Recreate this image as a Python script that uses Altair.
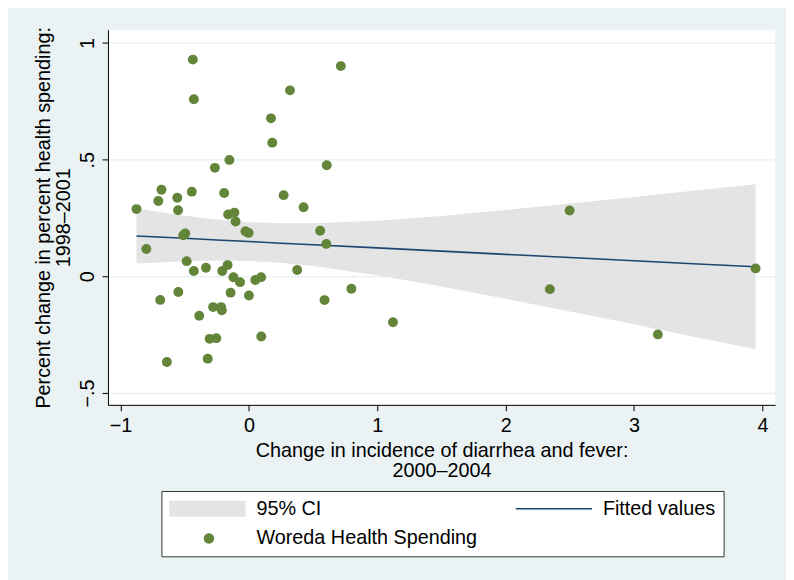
import altair as alt
import pandas as pd

# Scatter data (Woreda Health Spending)
px_x = [-0.437, -0.429, 0.716, 0.320, 0.172, 0.182, 0.606, -0.152, -0.265, -0.876,
        -0.681, -0.706, -0.558, -0.552, -0.445, -0.193, 0.270, 0.426, -0.162, -0.113,
        -0.104, -0.027, -0.002, -0.512, -0.496, -0.799, 0.555, 0.603, -0.485, -0.429,
        -0.335, -0.166, -0.208, -0.121, -0.069, 0.050, 0.095, 0.376, -0.691, -0.550,
        -0.143, 0.000, 0.798, 0.589, -0.387, -0.279, -0.217, -0.211, 1.122, -0.306,
        -0.254, 0.096, -0.639, -0.321, 2.344, 2.498, 3.186, 3.947]
px_y = [0.929, 0.759, 0.901, 0.797, 0.677, 0.573, 0.476, 0.499, 0.465, 0.288,
        0.371, 0.323, 0.337, 0.283, 0.363, 0.357, 0.348, 0.296, 0.265, 0.273,
        0.235, 0.193, 0.186, 0.176, 0.184, 0.117, 0.195, 0.139, 0.065, 0.023,
        0.037, 0.048, 0.023, -0.004, -0.025, -0.016, -0.004, 0.027, -0.101, -0.067,
        -0.070, -0.082, -0.053, -0.102, -0.169, -0.132, -0.132, -0.146, -0.197, -0.268,
        -0.265, -0.258, -0.367, -0.353, -0.055, 0.282, -0.249, 0.034]

# Fitted values and 95% CI
fit_x = [-0.876, -0.5, -0.25, 0.0, 0.25, 0.5, 1.0, 1.5, 2.0, 2.5, 3.0, 3.5, 3.947]
fit_y = [0.173, 0.163, 0.156, 0.149, 0.142, 0.135, 0.122, 0.108, 0.094, 0.081, 0.067, 0.053, 0.041]
ci_lo = [0.055, 0.065, 0.068, 0.066, 0.058, 0.044, 0.005, -0.044, -0.096, -0.151, -0.206, -0.263, -0.313]
ci_hi = [0.291, 0.260, 0.244, 0.232, 0.227, 0.227, 0.238, 0.259, 0.284, 0.312, 0.340, 0.369, 0.395]

x_ticks = [-1, 0, 1, 2, 3, 4]
y_ticks = [-0.5, 0, 0.5, 1]

series_names = ["95% CI", "Fitted values", "Woreda Health Spending"]
series_colors = ["#E4E4E4", "#1A476F", "#638539"]
series_shapes = [
    "M-1,-0.8H6.7V0.8H-1Z",
    "M-1,-0.075H6.7V0.075H-1Z",
    "M2.475,0A0.525,0.525,0,1,0,3.525,0A0.525,0.525,0,1,0,2.475,0Z",
]

XT = ["Change in incidence of diarrhea and fever:", "2000\u20132004"]
YT = ["Percent change in percent health spending:", "1998\u20132001"]

pts_df = pd.DataFrame({"x": px_x, "y": px_y})
fit_df = pd.DataFrame({"x": fit_x, "fit": fit_y, "lo": ci_lo, "hi": ci_hi})

xs = alt.Scale(domain=[-1.098, 4.099], nice=False, zero=False)
ys = alt.Scale(domain=[-0.551, 1.057], nice=False, zero=False)

x_axis = alt.Axis(values=x_ticks, grid=False, labelPadding=5, titlePadding=5)
y_axis = alt.Axis(values=y_ticks, grid=True, gridColor="#EAF2F3", gridWidth=1.5,
                  labelAngle=270, labelAlign="center", labelBaseline="bottom",
                  labelPadding=5, titlePadding=4,
                  labelExpr="replace(format(datum.value, '~g'), '0.', '.')")

X = lambda f: alt.X(f, type="quantitative", scale=xs, axis=x_axis, title=XT)
Y = lambda f: alt.Y(f, type="quantitative", scale=ys, axis=y_axis, title=YT)

band = alt.Chart(fit_df).mark_area(color="#E4E4E4", opacity=1).encode(
    x=X("x"), y=Y("lo"), y2="hi:Q")

line = alt.Chart(fit_df).mark_line(color="#1A476F", strokeWidth=1.6).encode(
    x=X("x"), y=Y("fit"))

leg = alt.Legend(title=None, orient="none", legendX=54, legendY=466, columns=2,
                 direction="horizontal",
                 columnPadding=38, rowPadding=10, padding=8, symbolSize=400,
                 symbolStrokeWidth=0, symbolOpacity=1, labelFont="Liberation Sans",
                 labelFontSize=20, labelColor="#000", labelOffset=68, labelLimit=400,
                 fillColor="white", strokeColor="#333")

legend_layer = alt.Chart(pts_df).transform_calculate(
    series="'Woreda Health Spending'"
).transform_filter("false").mark_point(filled=True, opacity=1).encode(
    x=X("x"), y=Y("y"),
    color=alt.Color("series:N", scale=alt.Scale(domain=series_names, range=series_colors), legend=leg),
    shape=alt.Shape("series:N", scale=alt.Scale(domain=series_names, range=series_shapes), legend=leg),
)

pts = alt.Chart(pts_df).mark_circle(color="#638539", size=100, opacity=1).encode(
    x=X("x"), y=Y("y"))

chart = alt.layer(band, line, legend_layer, pts).properties(
    width=674, height=379,
    autosize=alt.AutoSizeParams(type="none"),
    padding={"left": 101, "top": 19, "right": 11, "bottom": 174},
    background="#EAF2F3",
).configure_view(
    strokeWidth=0, fill="white"
).configure_axis(
    labelFont="Liberation Sans", labelFontSize=20, labelColor="#000",
    titleFont="Liberation Sans", titleFontSize=20, titleFontWeight="normal",
    titleColor="#000", domainColor="#000", domainWidth=1, tickColor="#222",
    tickSize=6, tickWidth=1.2, titleLineHeight=20, labelFlush=False,
)

chart.save("out.html", embed_options={"renderer": "svg", "actions": False})
